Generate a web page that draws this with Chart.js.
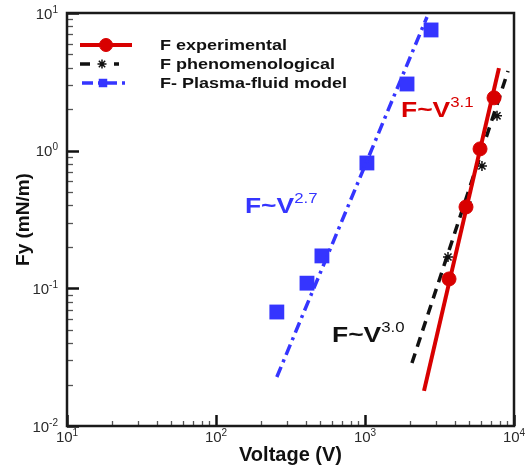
<!DOCTYPE html>
<html>
<head>
<meta charset="utf-8">
<script src="https://cdn.jsdelivr.net/npm/chart.js@4.4.0/dist/chart.umd.min.js"></script>
<style>
    html, body { margin: 0; padding: 0; background: #fff; }
</style>
</head>
<body>
<canvas id="myChart" width="526" height="470"></canvas>
<script>
// F experimental: measured points and the F~V^3.1 fit through them
var expVoltage = [3664, 4763, 5916, 7346]
var expForce = [0.117, 0.39, 1.03, 2.42]
var expFitVoltage = [2489, 7925]
var expFitForce = [0.018, 3.98]

// F phenomenological, fit F~V^3.0
var phenVoltage = [3606, 4909, 6095, 7691]
var phenForce = [0.169, 0.403, 0.774, 1.79]
var phenFitVoltage = [2066, 9120]
var phenFitForce = [0.0287, 3.79]

// F- Plasma-fluid model, fit F~V^2.7
var plasmaVoltage = [256, 408, 514, 1030, 1914, 2775]
var plasmaForce = [0.0673, 0.109, 0.172, 0.814, 3.05, 7.53]
var plasmaFitVoltage = [256, 2606]
var plasmaFitForce = [0.0227, 9.36]

var seriesNames = ['F experimental', 'F phenomenological', 'F- Plasma-fluid model']

// fit labels, placed in data coordinates (left edge / baseline)
var fitExponents = ['3.1', '3.0', '2.7']
var fitLabelVoltage = [1745, 600.6, 156.5]
var fitLabelForce = [1.756, 0.0408, 0.3526]

// decades shown on each log axis (10^n)
var xDecades = [1, 2, 3, 4]
var yDecades = [-2, -1, 0, 1]

const RED = '#d80000'
const BLUE = '#3535ff'
const BLACK = '#111111'
const FONT = "'Liberation Sans', Arial, sans-serif"

Chart.defaults.font.family = FONT
Chart.defaults.color = '#111'

function pairs(xs, ys) {
    return xs.map((v, i) => ({ x: v, y: ys[i] }))
}

function logTicks(decades) {
    let ticks = []
    for (let d = 0; d < decades.length; d++) {
        let base = Math.pow(10, decades[d])
        ticks.push({ value: base, major: true })
        if (d < decades.length - 1) {
            for (let m = 2; m <= 9; m++) {
                ticks.push({ value: m * base, major: false })
            }
        }
    }
    return ticks
}

// "base" with a raised exponent; stretch widens the glyphs a little
function powerText(ctx, base, exp, x, y, baseFont, supFont, rise, stretch, align) {
    ctx.font = baseFont
    let w1 = ctx.measureText(base).width
    ctx.font = supFont
    let w2 = ctx.measureText(exp).width
    let total = (w1 + w2) * stretch
    let x0 = x
    if (align === 'right') x0 = x - total
    else if (align === 'center') x0 = x - total / 2
    ctx.save()
    ctx.translate(x0, y)
    ctx.scale(stretch, 1)
    ctx.textAlign = 'left'
    ctx.textBaseline = 'alphabetic'
    ctx.font = baseFont
    ctx.fillText(base, 0, 0)
    ctx.font = supFont
    ctx.fillText(exp, w1, -rise)
    ctx.restore()
}

// frame, inward ticks and 10^n tick labels
const framePlugin = {
    id: 'frame',
    afterDatasetsDraw(chart) {
        const ctx = chart.ctx
        const area = chart.chartArea
        const xs = chart.scales.x
        const ys = chart.scales.y
        ctx.save()

        xs.ticks.forEach(t => {
            let px = Math.round(xs.getPixelForValue(t.value)) + 0.5
            ctx.strokeStyle = t.major ? '#111' : '#555'
            ctx.lineWidth = t.major ? 2.5 : 1.3
            ctx.beginPath()
            ctx.moveTo(px, area.bottom)
            ctx.lineTo(px, area.bottom - (t.major ? 11 : 5))
            ctx.stroke()
        })
        ys.ticks.forEach(t => {
            let py = Math.round(ys.getPixelForValue(t.value)) + 0.5
            ctx.strokeStyle = t.major ? '#111' : '#555'
            ctx.lineWidth = t.major ? 2.5 : 1.3
            ctx.beginPath()
            ctx.moveTo(area.left, py)
            ctx.lineTo(area.left + (t.major ? 12 : 6), py)
            ctx.stroke()
        })

        ctx.strokeStyle = '#1a1a1a'
        ctx.lineWidth = 2.5
        ctx.strokeRect(area.left, area.top, area.right - area.left, area.bottom - area.top)

        ctx.fillStyle = '#2a2a2a'
        xDecades.forEach(n => {
            let px = xs.getPixelForValue(Math.pow(10, n))
            powerText(ctx, '10', String(n), px, area.bottom + 16, '15px ' + FONT, '10px ' + FONT, 6, 1, 'center')
        })
        yDecades.forEach(n => {
            let py = ys.getPixelForValue(Math.pow(10, n))
            powerText(ctx, '10', String(n), area.left - 9, py + 5.5, '15px ' + FONT, '10px ' + FONT, 6, 1, 'right')
        })
        ctx.restore()
    }
}

// F~V^n labels next to each fit line
const fitLabelPlugin = {
    id: 'fitLabels',
    afterDatasetsDraw(chart) {
        const ctx = chart.ctx
        const xs = chart.scales.x
        const ys = chart.scales.y
        const colors = [RED, BLACK, BLUE]
        ctx.save()
        for (let i = 0; i < fitExponents.length; i++) {
            ctx.fillStyle = colors[i]
            powerText(ctx, 'F~V', fitExponents[i],
                xs.getPixelForValue(fitLabelVoltage[i]), ys.getPixelForValue(fitLabelForce[i]),
                'bold 22px ' + FONT, '14px ' + FONT, 10, 1.2, 'left')
        }
        ctx.restore()
    }
}

// legend: line sample with its marker, then the name
const legendPlugin = {
    id: 'boxLegend',
    afterDraw(chart) {
        const ctx = chart.ctx
        const area = chart.chartArea
        const rows = [
            { line: 0, mark: 1, x1: 13, x2: 65, mx: 39, r: 6.5 },
            { line: 2, mark: 3, x1: 13, x2: 52, mx: 35, r: 4.5 },
            { line: 4, mark: 5, x1: 15, x2: 61, mx: 36, r: 6 }
        ]
        ctx.save()
        rows.forEach((row, i) => {
            let y = area.top + 32 + i * 19
            let lineDs = chart.data.datasets[row.line]
            let markDs = chart.data.datasets[row.mark]
            ctx.strokeStyle = lineDs.borderColor
            ctx.lineWidth = lineDs.borderWidth
            ctx.setLineDash(lineDs.borderDash || [])
            ctx.beginPath()
            ctx.moveTo(area.left + row.x1, y)
            ctx.lineTo(area.left + row.x2, y)
            ctx.stroke()
            ctx.setLineDash([])

            // clear the dash under the marker, then draw the marker itself
            ctx.fillStyle = '#fff'
            if (markDs.pointStyle === 'star') {
                ctx.fillRect(area.left + row.mx - 6, y - 6, 12, 12)
            }
            ctx.fillStyle = markDs.backgroundColor
            ctx.strokeStyle = markDs.borderColor
            ctx.lineWidth = markDs.borderWidth
            Chart.helpers.drawPoint(ctx, {
                pointStyle: markDs.pointStyle,
                radius: row.r,
                rotation: 0,
                borderWidth: markDs.borderWidth
            }, area.left + row.mx, y)

            ctx.save()
            ctx.fillStyle = '#111'
            ctx.font = 'bold 15px ' + FONT
            ctx.textBaseline = 'alphabetic'
            ctx.translate(area.left + 93, y + 5)
            ctx.scale(1.2, 1)
            ctx.fillText(seriesNames[i], 0, 0)
            ctx.restore()
        })
        ctx.restore()
    }
}

const ctxEl = document.getElementById('myChart')
const myChart = new Chart(ctxEl, {
    type: 'scatter',
    data: {
        datasets: [
            {
                label: seriesNames[0] + ' fit',
                data: pairs(expFitVoltage, expFitForce),
                showLine: true,
                borderColor: RED,
                borderWidth: 4,
                pointRadius: 0
            },
            {
                label: seriesNames[0],
                data: pairs(expVoltage, expForce),
                pointStyle: 'circle',
                pointRadius: 7,
                backgroundColor: RED,
                borderColor: RED,
                borderWidth: 1
            },
            {
                label: seriesNames[1] + ' fit',
                data: pairs(phenFitVoltage, phenFitForce),
                showLine: true,
                borderColor: BLACK,
                borderWidth: 3.5,
                borderDash: [10, 7],
                pointRadius: 0
            },
            {
                label: seriesNames[1],
                data: pairs(phenVoltage, phenForce),
                pointStyle: 'star',
                pointRadius: 5,
                backgroundColor: BLACK,
                borderColor: BLACK,
                borderWidth: 1.5
            },
            {
                label: seriesNames[2] + ' fit',
                data: pairs(plasmaFitVoltage, plasmaFitForce),
                showLine: true,
                borderColor: BLUE,
                borderWidth: 3.5,
                borderDash: [11, 5, 3, 5],
                pointRadius: 0
            },
            {
                label: seriesNames[2],
                data: pairs(plasmaVoltage, plasmaForce),
                pointStyle: 'rect',
                pointRadius: 10.5,
                backgroundColor: BLUE,
                borderColor: BLUE,
                borderWidth: 0
            }
        ]
    },
    options: {
        responsive: false,
        animation: false,
        devicePixelRatio: 1,
        layout: { padding: { top: 13, right: 12, left: 0, bottom: 0 } },
        plugins: {
            legend: { display: false },
            tooltip: { enabled: false }
        },
        scales: {
            x: {
                type: 'logarithmic',
                position: 'bottom',
                min: 10,
                max: 10000,
                grid: { display: false },
                border: { display: false },
                ticks: { display: false },
                afterBuildTicks: (scale) => { scale.ticks = logTicks(xDecades) },
                afterFit: (scale) => { scale.height = 44 },
                title: {
                    display: true,
                    text: 'Voltage (V)',
                    color: '#111',
                    font: { size: 20, weight: 'bold' },
                    padding: { top: 0, bottom: 3 }
                }
            },
            y: {
                type: 'logarithmic',
                position: 'left',
                min: 0.01,
                max: 10,
                grid: { display: false },
                border: { display: false },
                ticks: { display: false },
                afterBuildTicks: (scale) => { scale.ticks = logTicks(yDecades) },
                afterFit: (scale) => { scale.width = 67 },
                title: {
                    display: true,
                    text: 'Fy (mN/m)',
                    color: '#111',
                    font: { size: 19, weight: 'bold' },
                    padding: { top: 12, bottom: 0 }
                }
            }
        }
    },
    plugins: [framePlugin, fitLabelPlugin, legendPlugin]
});
</script>
</body>
</html>
